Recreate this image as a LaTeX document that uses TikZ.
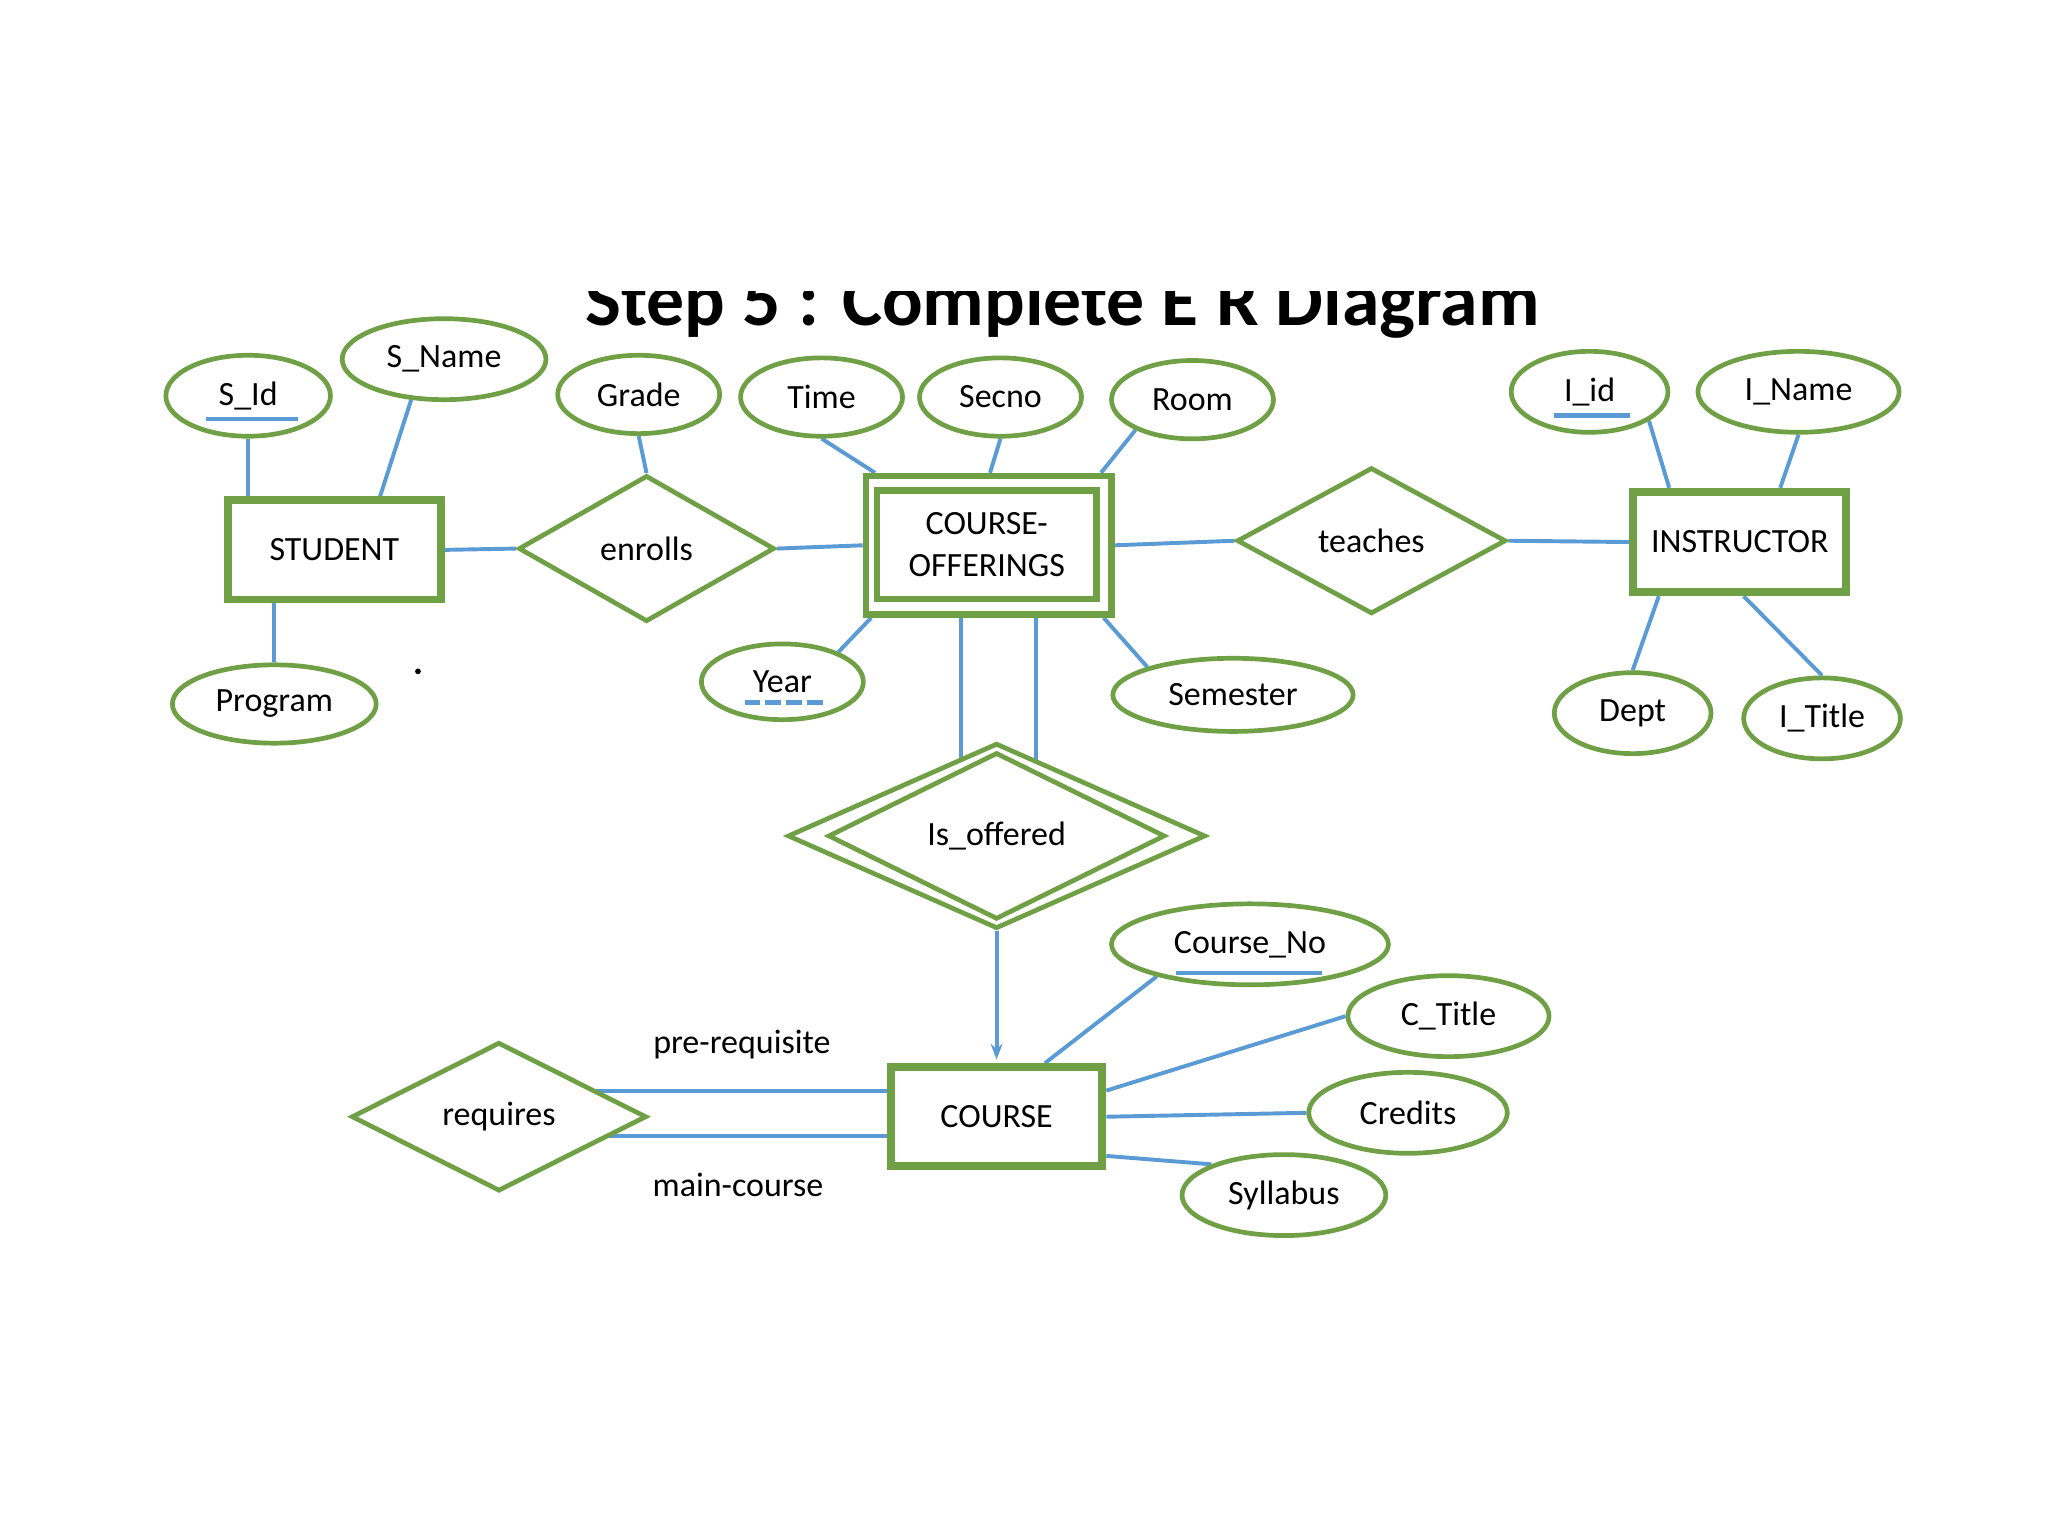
\documentclass[tikz,border=0pt]{standalone}
\usepackage{fontspec}
\setmainfont{Carlito}
\usetikzlibrary{shapes.geometric,arrows.meta,backgrounds}
\definecolor{ergreen}{HTML}{70A045}
\definecolor{erblue}{HTML}{5B9BD5}
\begin{document}
\begin{tikzpicture}[x=0.5pt,y=-0.5pt,
  every node/.style={font=\fontsize{13pt}{15.6pt}\selectfont, text=black},
  attr/.style={ellipse, draw=ergreen, line width=1.8pt, fill=white, inner sep=0pt},
  ent/.style={rectangle, draw=ergreen, line width=3pt, fill=white, inner sep=0pt},
  entin/.style={rectangle, draw=ergreen, line width=2.5pt, fill=white, inner sep=0pt},
  rel/.style={diamond, draw=ergreen, line width=1.8pt, fill=white, inner sep=0pt},
  conn/.style={draw=erblue, line width=1.5pt},
  keyline/.style={draw=erblue, line width=1.7pt},
  lbl/.style={inner sep=0pt}
]
\useasboundingbox (0,0) rectangle (1568,1176);

% title (clipped at the top as in the reference)
\begin{scope}
\clip (400,223) rectangle (1250,275);
\node[anchor=base west, inner sep=0pt, font=\bfseries\fontsize{29pt}{34pt}\selectfont] (title) at (448,249) {Step 5 : Complete E R Diagram};
\end{scope}

% entities
\node[ent, minimum width=81.5pt, minimum height=38pt] (STUDENT) at (256,421) {STUDENT};
\node[ent, minimum width=81.5pt, minimum height=38.5pt] (INSTRUCTOR) at (1332,415) {INSTRUCTOR};
\node[ent, minimum width=81pt, minimum height=38pt] (COURSE) at (763,855) {COURSE};
\node[ent, line width=2.5pt, minimum width=94pt, minimum height=53pt] (CO) at (757,417.5) {};
\node[entin, minimum width=84pt, minimum height=41.5pt, align=center, font=\fontsize{13pt}{16pt}\selectfont] (COin) at (755.5,417) {COURSE-\\OFFERINGS};

% relationships
\node[rel, minimum width=98pt, minimum height=56pt] (enrolls) at (495,420) {enrolls};
\node[rel, minimum width=103pt, minimum height=56pt] (teaches) at (1050,414) {teaches};
\node[rel, minimum width=113pt, minimum height=57pt] (requires) at (382,855) {requires};
\node[rel, minimum width=160pt, minimum height=71pt] (IsO) at (763,640) {};
\node[rel, minimum width=129pt, minimum height=56.5pt] (IsOin) at (763,640) {Is\_offered};

% attributes
\node[attr, minimum width=63pt, minimum height=31pt] (S_Id) at (190,303) {S\_Id};
\node[attr, minimum width=78pt, minimum height=31pt] (S_Name) at (340,275) {S\_Name};
\node[attr, minimum width=62pt, minimum height=30pt] (Grade) at (489,302) {Grade};
\node[attr, minimum width=62pt, minimum height=30pt] (Time) at (629,304) {Time};
\node[attr, minimum width=62pt, minimum height=30pt] (Secno) at (766,304) {Secno};
\node[attr, minimum width=62pt, minimum height=30pt] (Room) at (913,306) {Room};
\node[attr, minimum width=60pt, minimum height=31pt] (I_id) at (1217,300) {I\_id};
\node[attr, minimum width=77pt, minimum height=31pt] (I_Name) at (1377,300) {I\_Name};
\node[attr, minimum width=78pt, minimum height=30pt] (Program) at (210,539) {Program};
\node[attr, minimum width=62pt, minimum height=29pt] (Year) at (599,522) {Year};
\node[attr, minimum width=92pt, minimum height=28pt] (Semester) at (944,532) {Semester};
\node[attr, minimum width=60pt, minimum height=31pt] (Dept) at (1250,546) {Dept};
\node[attr, minimum width=60pt, minimum height=31pt] (I_Title) at (1395,550) {I\_Title};
\node[attr, minimum width=106pt, minimum height=31pt] (Course_No) at (957,723) {Course\_No};
\node[attr, minimum width=77pt, minimum height=31pt] (C_Title) at (1109,778) {C\_Title};
\node[attr, minimum width=76pt, minimum height=31pt] (Credits) at (1078,852) {Credits};
\node[attr, minimum width=78pt, minimum height=31pt] (Syllabus) at (983,915) {Syllabus};

% role labels
\node[lbl] (pre) at (568,800) {pre-requisite};
\node[lbl] (main) at (565,907) {main-course};

% key underlines
\draw[keyline] ([xshift=-16pt,yshift=-9pt]S_Id.center) -- ([xshift=19pt,yshift=-9pt]S_Id.center);
\draw[keyline] ([xshift=-13.5pt,yshift=-9pt]I_id.center) -- ([xshift=15.5pt,yshift=-9pt]I_id.center);
\draw[keyline] ([xshift=-28.5pt,yshift=-11pt]Course_No.center) -- ([xshift=27.5pt,yshift=-11pt]Course_No.center);
\draw[keyline, dash pattern=on 6pt off 2pt] ([xshift=-14.5pt,yshift=-8pt]Year.center) -- ([xshift=15.5pt,yshift=-8pt]Year.center);

% stray dot
\fill[black] (320,514) circle (2.2);

% connectors
\begin{scope}[on background layer]
\fill[white] (0,0) rectangle (1568,1176);
\draw[conn] (S_Id.south) -- (S_Id.south |- STUDENT.north);
\draw[conn] (S_Name.231) -- ([xshift=17.5pt]STUDENT.north);
\draw[conn] (Program.north) -- (Program.north |- STUDENT.south);
\draw[conn] (STUDENT.east) -- (enrolls.west);
\draw[conn] (Grade.south) -- (enrolls.north);
\draw[conn] (enrolls.east) -- (CO.west);
\draw[conn] (Time.south) -- ([xshift=-43.5pt]CO.north);
\draw[conn] (Secno.south) -- ([xshift=0.5pt]CO.north);
\draw[conn] (Room.208) -- ([xshift=43pt]CO.north);
\draw[conn] (Year.28) -- ([xshift=-45pt]CO.south);
\draw[conn] (Semester.162) -- ([xshift=44pt]CO.south);
\draw[conn] ([xshift=-10.5pt]CO.south) -- ([xshift=-13.5pt,yshift=-12pt]IsO.north);
\draw[conn] ([xshift=18pt]CO.south) -- ([xshift=15pt,yshift=-12pt]IsO.north);
\draw[conn] (CO.east) -- (teaches.west);
\draw[conn] (teaches.east) -- (INSTRUCTOR.west);
\draw[conn] (I_id.334) -- ([xshift=-27pt]INSTRUCTOR.north);
\draw[conn] (I_Name.south) -- ([xshift=15.5pt]INSTRUCTOR.north);
\draw[conn] (Dept.north) -- ([xshift=-31pt]INSTRUCTOR.south);
\draw[conn] (I_Title.north) -- ([xshift=1.5pt]INSTRUCTOR.south);
\draw[conn, -{Stealth[length=6pt,width=4.5pt]}, shorten >=1.4pt] (IsO.south) -- (COURSE.north);
\draw[conn] (Course_No.199) -- ([xshift=18.5pt]COURSE.north);
\draw[conn] (C_Title.west) -- ([yshift=10pt]COURSE.east);
\draw[conn] (Credits.west) -- (COURSE.east);
\draw[conn] (Syllabus.157) -- ([yshift=-15pt]COURSE.east);
\draw[conn] ([yshift=10pt]requires.center) -- ([yshift=10pt]COURSE.west);
\draw[conn] ([yshift=-7.5pt]requires.center) -- ([yshift=-7.5pt]COURSE.west);
\end{scope}
\end{tikzpicture}
\end{document}
